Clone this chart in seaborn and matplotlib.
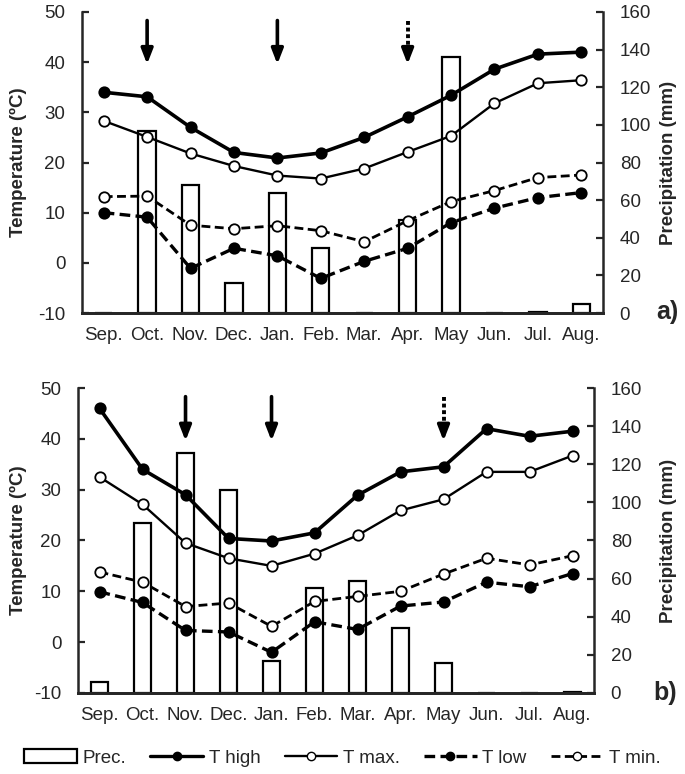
import numpy as np
import seaborn as sns
import matplotlib.pyplot as plt
from matplotlib.patches import Patch
from matplotlib.lines import Line2D

sns.set_style("ticks")
plt.rcParams["font.family"] = ["Liberation Sans", "DejaVu Sans"]
plt.rcParams["axes.unicode_minus"] = False

months = ["Sep.", "Oct.", "Nov.", "Dec.", "Jan.", "Feb.", "Mar.", "Apr.", "May", "Jun.", "Jul.", "Aug."]

# panel a)
a_prec = [0, 97, 68, 16, 64, 34.5, 0, 49.5, 136, 0, 0.4, 5]
a_thigh = [34, 33.1, 27, 22, 20.9, 21.9, 25, 29.1, 33.4, 38.6, 41.6, 42]
a_tmax = [28.3, 25.1, 21.8, 19.3, 17.4, 16.8, 18.8, 22.1, 25.3, 31.8, 35.8, 36.4]
a_tlow = [10, 9.1, -1.1, 2.9, 1.4, -3.1, 0.3, 2.9, 8, 10.9, 13, 14]
a_tmin = [13.2, 13.3, 7.5, 6.8, 7.4, 6.4, 4.2, 8.4, 12.2, 14.4, 17, 17.5]
a_arrows_solid = ["Oct.", "Jan."]
a_arrows_dotted = ["Apr."]

# panel b)
b_prec = [6, 89, 126, 106.5, 17, 55, 59, 34, 15.5, 0, 0, 0.4]
b_thigh = [46, 34, 29, 20.4, 19.9, 21.5, 28.9, 33.5, 34.5, 42, 40.5, 41.5]
b_tmax = [32.5, 27.1, 19.5, 16.5, 15, 17.4, 21, 25.9, 28.1, 33.5, 33.5, 36.7]
b_tlow = [9.9, 7.8, 2.3, 2, -2, 4, 2.5, 7.1, 7.9, 11.8, 10.9, 13.5]
b_tmin = [13.8, 11.8, 7, 7.7, 3.1, 8, 9, 10, 13.4, 16.5, 15.2, 17]
b_arrows_solid = ["Nov.", "Jan."]
b_arrows_dotted = ["May"]

arrow_top, arrow_tip = 48.3, 39.6


def panel(rect, prec, thigh, tmax, tlow, tmin, solid, dotted, labx):
    ax = fig.add_axes(rect)
    ax2 = ax.twinx()
    sns.barplot(x=months, y=prec, ax=ax2, color="white", edgecolor="black",
                linewidth=1.6, width=0.4, saturation=1)
    pos = np.arange(len(months))
    lines = [
        (thigh, "black", "-", 2.6),
        (tmax, "white", "-", 1.7),
        (tlow, "black", (0, (3.2, 1.6)), 2.4),
        (tmin, "white", (0, (3.2, 1.6)), 2.0),
    ]
    for vals, fc, ls, lw in lines:
        sns.lineplot(x=pos, y=vals, ax=ax, color="black", marker="o", markersize=7.5,
                     markerfacecolor=fc, markeredgecolor="black", markeredgewidth=1.3,
                     linestyle=ls, linewidth=lw)
    # arrows: shaft + head (dotted shaft for the last one)
    for m in solid + dotted:
        i = months.index(m)
        if m in dotted:
            ax.plot([i, i], [arrow_top, arrow_tip + 2.0], color="black", lw=2.8,
                    linestyle=(0, (1.0, 0.7)), solid_capstyle="butt")
            start = arrow_tip + 2.6
        else:
            start = arrow_top
        ax.annotate("", xy=(i, arrow_tip), xytext=(i, start),
                    arrowprops=dict(arrowstyle="-|>,head_length=0.9,head_width=0.35",
                                    color="black", lw=2.6, shrinkA=0, shrinkB=0))
    ax.set_zorder(ax2.get_zorder() + 1)
    ax.patch.set_visible(False)

    ax.set_ylim(-10, 50)
    ax.set_yticks(range(-10, 51, 10))
    ax2.set_ylim(0, 160)
    ax2.set_yticks(range(0, 161, 20))
    ax.set_xlim(-0.5, 11.5)
    ax.set_xticks(pos)
    ax.set_xticklabels(months)

    for a in (ax, ax2):
        a.spines["top"].set_visible(False)
        a.spines["bottom"].set_linewidth(2)
    ax.spines["right"].set_visible(False)
    ax2.spines["left"].set_visible(False)
    ax.spines["left"].set_linewidth(1.8)
    ax2.spines["right"].set_linewidth(1.8)

    ax.tick_params(axis="y", direction="in", length=5, width=1.6, labelsize=13.5, pad=12)
    ax2.tick_params(axis="y", direction="in", length=5, width=1.6, labelsize=13.5, pad=12)
    ax.tick_params(axis="x", length=0, labelsize=13.5, pad=10)

    ax.set_xlabel("")
    ax.set_ylabel("Temperature (ºC)", fontsize=13.5, fontweight="bold")
    ax2.set_xlabel("")
    ax2.set_ylabel("Precipitation (mm)", fontsize=13.5, fontweight="bold")
    ax.yaxis.set_label_coords(labx[0], 0.5)
    ax2.yaxis.set_label_coords(labx[1], 0.5)
    return ax


fig = plt.figure(figsize=(6.85, 7.74), dpi=100)

panel([0.1197, 0.5956, 0.7606, 0.3889], a_prec, a_thigh, a_tmax, a_tlow, a_tmin,
      a_arrows_solid, a_arrows_dotted, (-0.106, 1.109))
panel([0.1139, 0.1047, 0.7533, 0.394], b_prec, b_thigh, b_tmax, b_tlow, b_tmin,
      b_arrows_solid, b_arrows_dotted, (-0.099, 1.128))

fig.text(667 / 685, 1 - 312 / 774, "a)", fontsize=18, fontweight="bold", ha="center", va="center")
fig.text(665 / 685, 1 - 693 / 774, "b)", fontsize=18, fontweight="bold", ha="center", va="center")

handles = [
    Patch(facecolor="white", edgecolor="black", linewidth=1.6, label="Prec."),
    Line2D([], [], color="black", lw=2.4, marker="o", ms=6, mfc="black", mec="black", label="T high"),
    Line2D([], [], color="black", lw=1.7, marker="o", ms=6, mfc="white", mec="black", label="T max."),
    Line2D([], [], color="black", lw=2.4, ls=(0, (3.2, 1.6)), marker="o", ms=6, mfc="black",
           mec="black", label="T low"),
    Line2D([], [], color="black", lw=2.0, ls=(0, (3.2, 1.6)), marker="o", ms=6, mfc="white",
           mec="black", label="T min."),
]
fig.legend(handles=handles, loc="center", bbox_to_anchor=(0.5, 1 - 758 / 774), ncol=5,
           frameon=False, fontsize=13.5, handlelength=2.8, handletextpad=0.3,
           columnspacing=1.3)

plt.savefig("out.png", dpi=100)
